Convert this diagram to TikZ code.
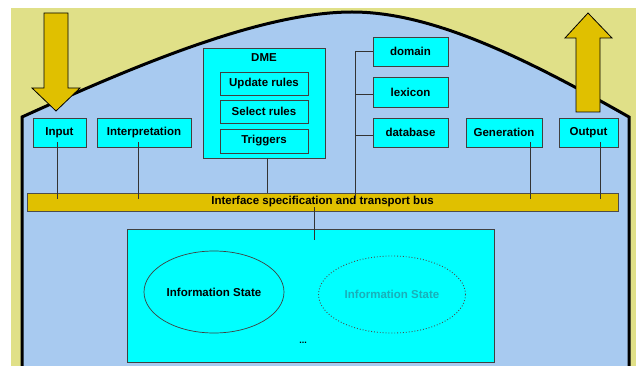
\documentclass[tikz,border=0pt]{standalone}
\usepackage{fontspec}
\setmainfont{Liberation Sans}
\usetikzlibrary{shapes.geometric}
\definecolor{bgyellow}{RGB}{224,224,136}
\definecolor{bgblue}{RGB}{168,202,240}
\definecolor{gold}{RGB}{224,192,0}
\definecolor{boxcyan}{RGB}{0,255,255}
\definecolor{ghost}{RGB}{25,175,185}
\tikzset{
  box/.style={draw=black!75, fill=boxcyan, line width=0.9pt, inner sep=0pt,
    font=\bfseries\fontsize{11.5}{13}\selectfont},
  bigarrow/.style={fill=gold, draw=black, line width=0.8pt, line join=miter},
  wire/.style={draw=black!80, line width=0.8pt}
}

\begin{document}
\begin{tikzpicture}[x=1pt,y=-1pt]
        \useasboundingbox (0,0) rectangle (636,366);
        \fill[white] (0,0) rectangle (636,366);
        \fill[bgyellow] (11,8) rectangle (636,366);

        % blue area with the curved roof
        \fill[bgblue] (22,366) -- (22,117) .. controls (130,68) and (260,12) .. (352,12)
          .. controls (430,12) and (520,55) .. (629,117) -- (629,366) -- cycle;
        \draw[line width=3pt] (22,366) -- (22,117) .. controls (130,68) and (260,12) .. (352,12)
          .. controls (430,12) and (520,55) .. (629,117) -- (629,366);

        % in and out arrows
        \draw[bigarrow] (44,13) -- (68,13) -- (68,88) -- (80,88) -- (56,111) -- (32,88) -- (44,88) -- cycle;
        \draw[bigarrow] (576,112) -- (600,112) -- (600,38) -- (612,38) -- (588,13) -- (565,38) -- (576,38) -- cycle;

        \node[box, minimum width=53, minimum height=29] (input) at (59.5,132.5) {Input};
        \node[box, minimum width=94, minimum height=29] (interp) at (144,132.5) {Interpretation};

        \node[box, minimum width=122, minimum height=110] (dme) at (264,103) {};
        \node[font=\bfseries\fontsize{11.5}{13}\selectfont] (dmelabel) at (264,58) {DME};
        \node[box, minimum width=88, minimum height=23] (update) at (264,83.5) {Update rules};
        \node[box, minimum width=88, minimum height=23] (select) at (264,111.5) {Select rules};
        \node[box, minimum width=88, minimum height=24] (trig) at (264,141) {Triggers};

        \node[box, minimum width=75, minimum height=29] (domain) at (410.5,51.5) {domain};
        \node[box, minimum width=75, minimum height=30] (lexicon) at (410.5,92) {lexicon};
        \node[box, minimum width=75, minimum height=29] (database) at (410.5,132.5) {database};

        \node[box, minimum width=76, minimum height=29] (gen) at (504,132.5) {Generation};
        \node[box, minimum width=59, minimum height=29] (output) at (588.5,132.5) {Output};

        \node[box, fill=gold, draw=black!70, minimum width=591, minimum height=18] (bus) at (322.5,202) {Interface specification and transport bus};

        \node[box, minimum width=367, minimum height=133] (lower) at (310.5,295.5) {};
        \node[box, ellipse, line width=0.7pt, minimum width=140, minimum height=82] (infostate) at (214,292) {Information State};
        \node[box, ellipse, draw=black!70, dotted, line width=0.9pt, text=ghost, minimum width=147, minimum height=77] (ghoststate) at (392,294.5) {Information State};
        \node[font=\bfseries\fontsize{9}{10}\selectfont] (more) at (303,343) {...};

        % wires to the bus
        \draw[wire] ([xshift=-2.5pt,yshift=5pt]input.south) -- ([xshift=-2.5pt,yshift=-6pt]input.south |- bus.north);
        \draw[wire] ([xshift=-6pt,yshift=5pt]interp.south) -- ([xshift=-6pt,yshift=-6pt]interp.south |- bus.north);
        \draw[wire] ([xshift=3pt]dme.south) -- ([xshift=3pt]dme.south |- bus.north);
        \draw[wire] ([xshift=26pt,yshift=5pt]gen.south) -- ([xshift=26pt,yshift=-6pt]gen.south |- bus.north);
        \draw[wire] ([xshift=11.5pt,yshift=5pt]output.south) -- ([xshift=11.5pt,yshift=-6pt]output.south |- bus.north);

        \coordinate (spine) at (355,51.5);
        \draw[wire] (spine) -- ([yshift=-6pt]spine |- bus.north);
        \draw[wire] (domain.west) -- (domain.west -| spine);
        \draw[wire] ([yshift=-2pt]lexicon.west) -- ([yshift=-2pt]lexicon.west -| spine);
        \draw[wire] ([yshift=-2.5pt]database.west) -- ([yshift=-2.5pt]database.west -| spine);

        \draw[wire] ([xshift=-8.5pt,yshift=-5pt]bus.center) -- ([xshift=3.5pt,yshift=-11pt]lower.north);
\end{tikzpicture}
\end{document}
